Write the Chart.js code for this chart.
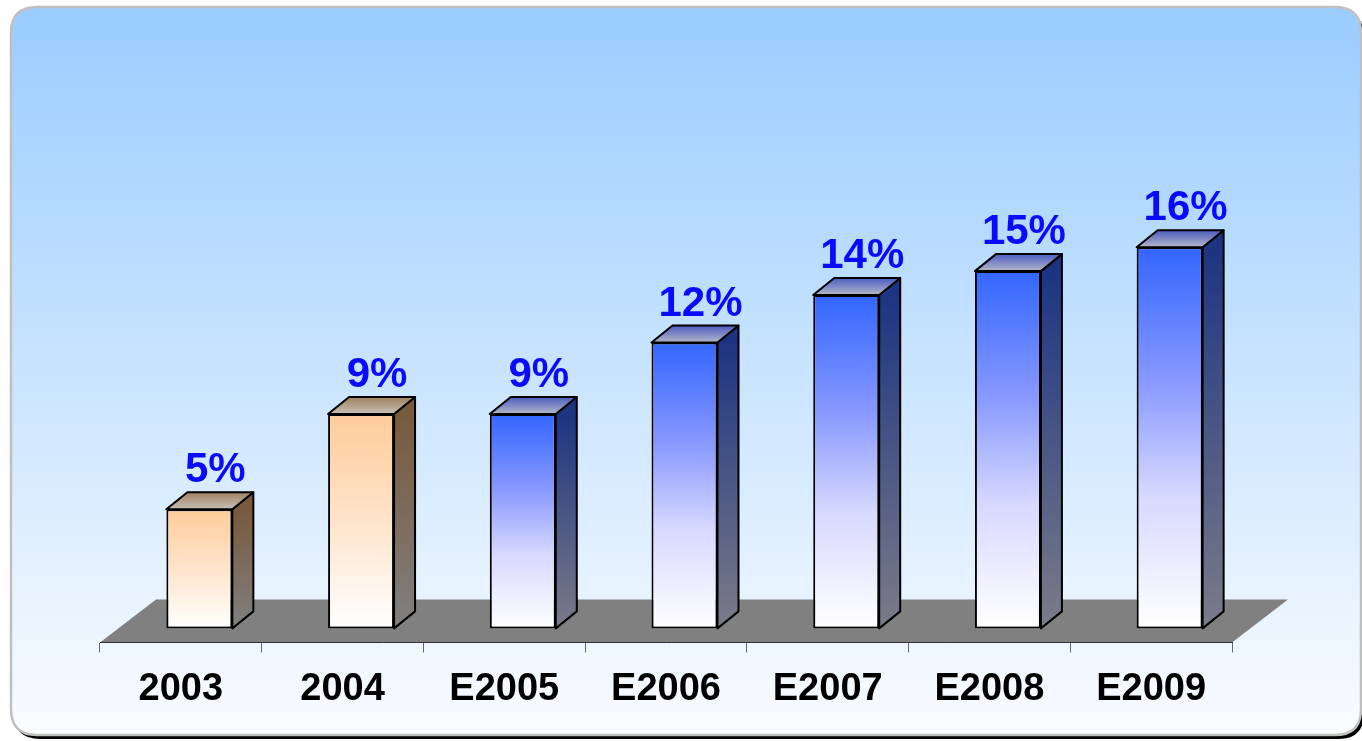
<!DOCTYPE html>
<html>
<head>
<meta charset="utf-8">
<title>Growth 2003 - E2009</title>
<script src="https://cdn.jsdelivr.net/npm/chart.js@4"></script>
<style>
  html, body { margin: 0; padding: 0; background: #ffffff; }
  canvas { display: block; }
</style>
</head>
<body>
<canvas id="myChart" width="1362" height="741"></canvas>
<script>
// years shown on the axis ("E" = estimate)
const years = ["2003", "2004", "E2005", "E2006", "E2007", "E2008", "E2009"];
// growth in percent, one per year
const growth = [5, 9, 9, 12, 14, 15, 16];

const FONT = "'Liberation Sans', Arial, sans-serif";
const SHIFT = { x: 18.5, y: -14 };  // front face of the bars sits back from the axis line
const DEPTH = { x: 21, y: -17 };    // depth of each bar
const FLOOR = { x: 56, y: -43 };    // depth of the grey floor

const isEstimate = (i) => years[i].startsWith("E");

// colours for actual years (peach) and estimates (blue)
const colours = {
  actual: {
    front: [[0, "#ffcc99"], [0.5, "#ffe4cc"], [1, "#ffffff"]],
    side: ["#785a3e", "#808080"],
    top: ["#a08060", "#c8c0b8"]
  },
  estimate: {
    front: [[0, "#3366ff"], [0.35, "#8898ff"], [0.65, "#d6d8ff"], [1, "#ffffff"]],
    side: ["#1c3482", "#7c7c88"],
    top: ["#4a5cc0", "#b4b8c8"]
  }
};

function roundRect(ctx, x, y, w, h, r) {
  ctx.beginPath();
  ctx.moveTo(x + r, y);
  ctx.lineTo(x + w - r, y);
  ctx.quadraticCurveTo(x + w, y, x + w, y + r);
  ctx.lineTo(x + w, y + h - r);
  ctx.quadraticCurveTo(x + w, y + h, x + w - r, y + h);
  ctx.lineTo(x + r, y + h);
  ctx.quadraticCurveTo(x, y + h, x, y + h - r);
  ctx.lineTo(x, y + r);
  ctx.quadraticCurveTo(x, y, x + r, y);
  ctx.closePath();
}

const threeD = {
  id: "threeD",
  beforeDraw(chart) {
    const { ctx, chartArea: a } = chart;
    ctx.save();
    // panel with shadow and soft blue gradient
    roundRect(ctx, 14, 11, 1350, 728, 26);
    ctx.fillStyle = "#000000";
    ctx.fill();
    roundRect(ctx, 11, 7, 1350, 728, 26);
    const bg = ctx.createLinearGradient(0, 7, 0, 735);
    bg.addColorStop(0, "#99ccff");
    bg.addColorStop(1, "#fafcff");
    ctx.fillStyle = bg;
    ctx.fill();
    ctx.lineWidth = 2.5;
    ctx.strokeStyle = "#c0c0c0";
    ctx.stroke();

    // floor
    ctx.beginPath();
    ctx.moveTo(a.left, a.bottom);
    ctx.lineTo(a.right, a.bottom);
    ctx.lineTo(a.right + FLOOR.x, a.bottom + FLOOR.y);
    ctx.lineTo(a.left + FLOOR.x, a.bottom + FLOOR.y);
    ctx.closePath();
    ctx.fillStyle = "#808080";
    ctx.fill();
    ctx.restore();
  },
  beforeDatasetsDraw(chart) {
    chart.ctx.save();
    chart.ctx.translate(SHIFT.x, SHIFT.y);
  },
  afterDatasetsDraw(chart) {
    const ctx = chart.ctx;
    ctx.restore();
    const meta = chart.getDatasetMeta(0);
    ctx.save();
    ctx.lineWidth = 2;
    ctx.lineJoin = "round";
    ctx.strokeStyle = "#000000";
    meta.data.forEach((bar, i) => {
      const c = isEstimate(i) ? colours.estimate : colours.actual;
      const left = bar.x - bar.width / 2 + SHIFT.x;
      const right = bar.x + bar.width / 2 + SHIFT.x;
      const top = bar.y + SHIFT.y;
      const bottom = bar.base + SHIFT.y;

      // right side
      const sg = ctx.createLinearGradient(0, top, 0, bottom);
      sg.addColorStop(0, c.side[0]);
      sg.addColorStop(1, c.side[1]);
      ctx.beginPath();
      ctx.moveTo(right, top);
      ctx.lineTo(right + DEPTH.x, top + DEPTH.y);
      ctx.lineTo(right + DEPTH.x, bottom + DEPTH.y);
      ctx.lineTo(right, bottom);
      ctx.closePath();
      ctx.fillStyle = sg;
      ctx.fill();
      ctx.stroke();

      // top
      const tg = ctx.createLinearGradient(0, top + DEPTH.y, 0, top);
      tg.addColorStop(0, c.top[0]);
      tg.addColorStop(1, c.top[1]);
      ctx.beginPath();
      ctx.moveTo(left, top);
      ctx.lineTo(left + DEPTH.x, top + DEPTH.y);
      ctx.lineTo(right + DEPTH.x, top + DEPTH.y);
      ctx.lineTo(right, top);
      ctx.closePath();
      ctx.fillStyle = tg;
      ctx.fill();
      ctx.stroke();

      // value label
      ctx.fillStyle = "#0a0aff";
      ctx.font = "bold 42px " + FONT;
      ctx.textAlign = "center";
      ctx.textBaseline = "alphabetic";
      ctx.fillText(growth[i] + "%", (left + right) / 2 + 16, top + DEPTH.y - 10);
    });
    ctx.restore();
  }
};

const ctx = document.getElementById("myChart");

new Chart(ctx, {
  type: "bar",
  data: {
    labels: years,
    datasets: [
      {
        data: growth,
        borderColor: "#000000",
        borderWidth: 2,
        borderSkipped: false,
        categoryPercentage: 0.408,
        barPercentage: 1,
        backgroundColor: (context) => {
          const chart = context.chart;
          if (!chart.chartArea) return "#ffffff";
          const i = context.dataIndex;
          const y = chart.scales.y;
          const top = y.getPixelForValue(growth[i]);
          const g = chart.ctx.createLinearGradient(0, top, 0, y.getPixelForValue(0));
          const stops = isEstimate(i) ? colours.estimate.front : colours.actual.front;
          stops.forEach(([pos, col]) => g.addColorStop(pos, col));
          return g;
        }
      }
    ]
  },
  options: {
    responsive: false,
    animation: false,
    events: [],
    layout: {
      padding: { left: 100, right: 130, top: 166, bottom: 15 }
    },
    plugins: {
      legend: { display: false },
      tooltip: { enabled: false },
      title: { display: false }
    },
    scales: {
      x: {
        grid: {
          display: true,
          drawOnChartArea: false,
          tickLength: 10,
          color: "#666666",
          offset: true
        },
        border: { display: true, color: "#333333", width: 1 },
        ticks: {
          color: "#000000",
          padding: 14,
          font: { family: FONT, size: 38, weight: "bold" }
        }
      },
      y: {
        display: false,
        min: 0,
        max: 20
      }
    }
  },
  plugins: [threeD]
});
</script>
</body>
</html>
